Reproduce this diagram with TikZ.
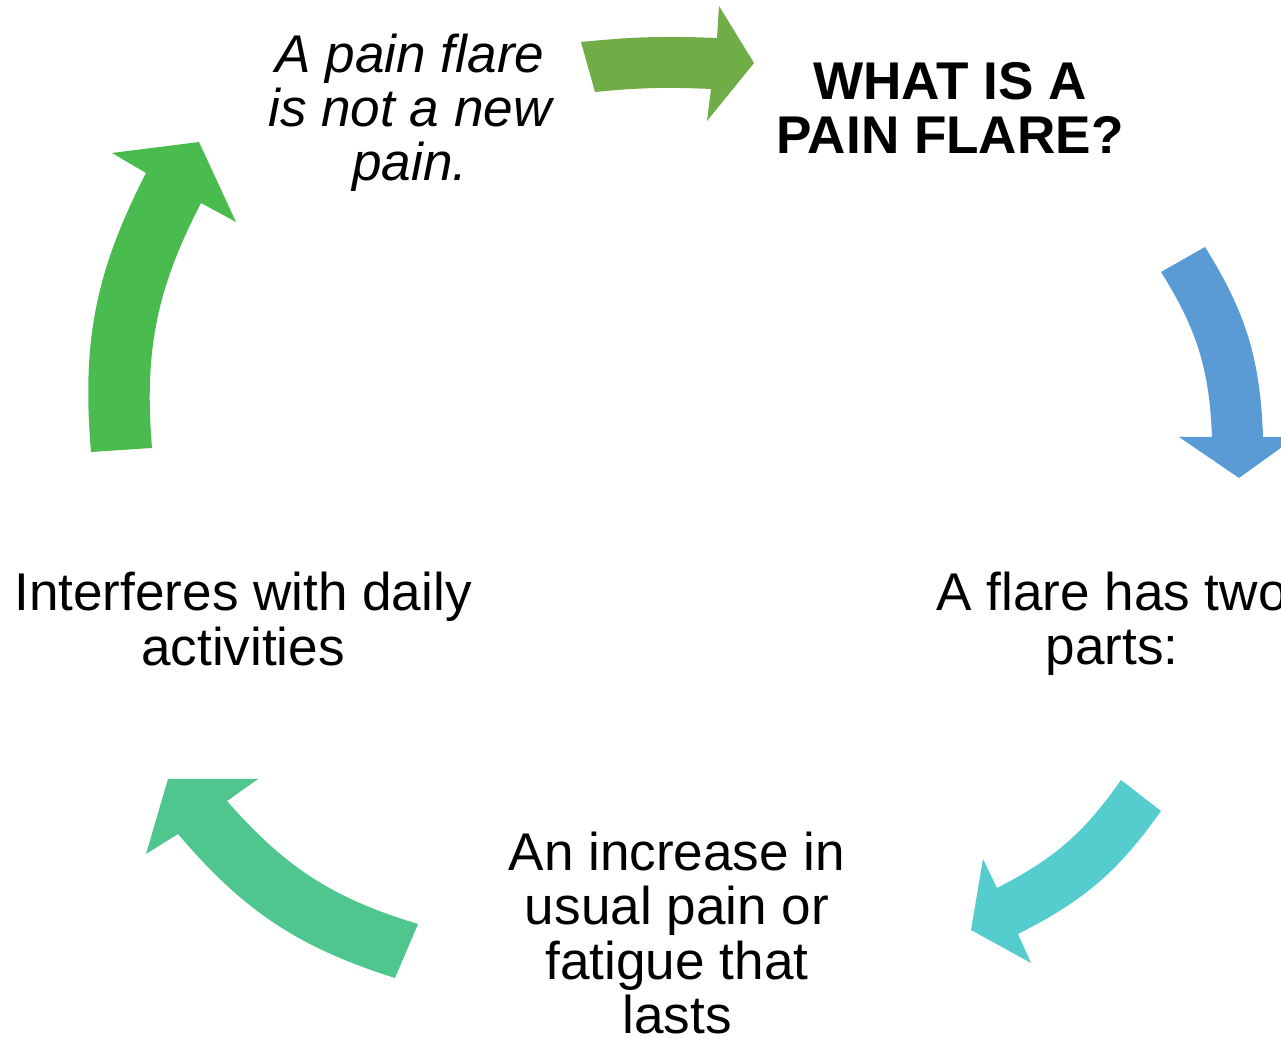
\documentclass[tikz,border=0pt]{standalone}
\usepackage{fontspec}
\setmainfont{Liberation Sans}
\definecolor{cgreen}{HTML}{70AD47}
\definecolor{cblue}{HTML}{5B9BD5}
\definecolor{ccyan}{HTML}{55CCCD}
\definecolor{cteal}{HTML}{50C68F}
\definecolor{clime}{HTML}{4ABB4F}
\tikzset{
  stage/.style={align=center, inner sep=0pt, font=\fontsize{15.1}{15.4}\selectfont#1},
  stage/.default={},
  cyclearrow/.style={fill=#1, draw=none},
}

\begin{document}
\begin{tikzpicture}[x=0.01cm, y=0.01cm]
  \useasboundingbox (0,0) rectangle (1281,1039);
  % arrows round the cycle
  \fill[cyclearrow=cgreen] (581,997) to[bend left=4] (717,1001) -- (719,1033) -- (754,976)
    -- (707,918) -- (711,950) to[bend right=4] (595,947) -- cycle;
  \fill[cyclearrow=cblue] (1205,792) to[bend left=15] (1263,602) -- (1296,602) -- (1239,561)
    -- (1179,602) -- (1212,602) to[bend right=15] (1161,767) -- cycle;
  \fill[cyclearrow=ccyan] (1161,228) to[bend left=14] (1018,105) -- (1031,76) -- (971,109)
    -- (983,180) -- (997,151) to[bend right=14] (1121,259) -- cycle;
  \fill[cyclearrow=cteal] (395,61) to[bend left=16] (178,205) -- (146,185) -- (168,260)
    -- (258,260) -- (227,238) to[bend right=16] (418,115) -- cycle;
  \fill[cyclearrow=clime] (91,587) to[bend left=16] (146,866) -- (112,886) -- (199,897)
    -- (236,817) -- (201,836) to[bend right=16] (152,591) -- cycle;
  % texts
  \node[stage=\bfseries] (title) at (950,931) {WHAT IS A\\PAIN FLARE?};
  \node[stage] (parts) at (1112,415) {A flare has two\\parts:};
  \node[stage] (increase) at (677,106) {An increase in\\usual pain or\\fatigue that\\lasts};
  \node[stage] (daily) at (243,420) {Interferes with daily\\activities};
  \node[stage=\itshape] (notnew) at (410,926) {A pain flare\\is not a new\\pain.};
\end{tikzpicture}
\end{document}
